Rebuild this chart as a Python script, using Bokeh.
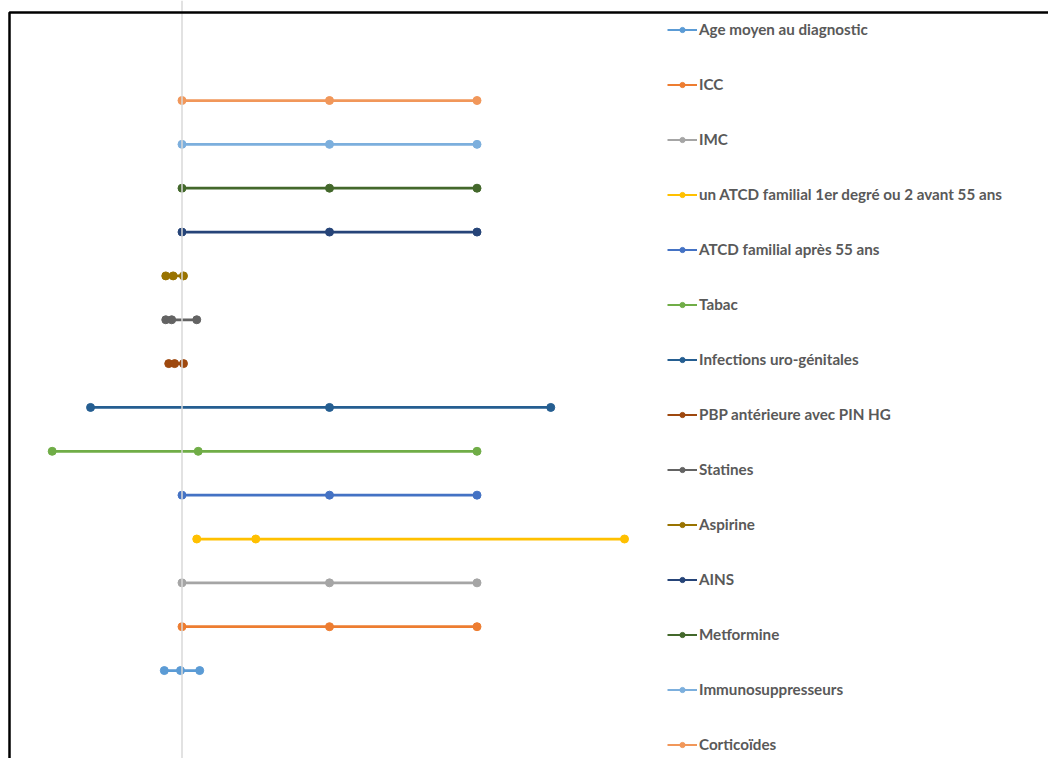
from bokeh.plotting import figure
from bokeh.models import ColumnDataSource, Span, Legend, LegendItem, Range1d, BoxAnnotation
from bokeh.embed import file_html
from bokeh.resources import INLINE

# ---------------- data ----------------
categories = [
    "Age moyen au diagnostic",
    "ICC",
    "IMC",
    "un ATCD familial 1er degré ou 2 avant 55 ans",
    "ATCD familial après 55 ans",
    "Tabac",
    "Infections uro-génitales",
    "PBP antérieure avec PIN HG",
    "Statines",
    "Aspirine",
    "AINS",
    "Metformine",
    "Immunosuppresseurs",
    "Corticoïdes",
]
rows = [1, 2, 3, 4, 5, 6, 7, 8, 9, 10, 11, 12, 13, 14]
low = [0.88, 1.0, 1.0, 1.10, 1.0, 0.12, 0.38, 0.91, 0.89, 0.89, 1.0, 1.0, 1.0, 1.0]
mid = [0.99, 2.0, 2.0, 1.50, 2.0, 1.11, 2.0, 0.95, 0.93, 0.94, 2.0, 2.0, 2.0, 2.0]
high = [1.12, 3.0, 3.0, 4.00, 3.0, 3.0, 3.50, 1.01, 1.10, 1.01, 3.0, 3.0, 3.0, 3.0]
reference_value = 1.0

colors = ["#5B9BD5", "#ED7D31", "#A5A5A5", "#FFC000", "#4472C4", "#70AD47",
          "#255E91", "#9E480E", "#636363", "#997300", "#264478", "#43682B",
          "#7CAFDD", "#F1975A"]

# ---------------- layout constants ----------------
W, H = 1048, 758
PX_PER_X = 147.5           # pixels per x unit
PX_PER_Y = 43.85           # pixels per row
REF_PX = 181.5             # frame pixel of the reference value
TOP_ROW_PX = 100.0         # frame pixel of the top row

x_start = reference_value - REF_PX / PX_PER_X
x_end = x_start + W / PX_PER_X
y_end = max(rows) + TOP_ROW_PX / PX_PER_Y
y_start = y_end - H / PX_PER_Y

p = figure(width=W, height=H, output_backend="svg", toolbar_location=None,
           x_range=Range1d(x_start, x_end), y_range=Range1d(y_start, y_end),
           min_border=0, min_border_left=0, min_border_right=0,
           min_border_top=0, min_border_bottom=0)
p.axis.visible = False
p.grid.visible = False
p.outline_line_color = None
p.background_fill_color = "white"
p.border_fill_color = "white"

# reference vertical line
p.add_layout(Span(location=reference_value, dimension="height",
                  line_color="#D9D9D9", line_width=1.5))

# chart frame: top-left corner visible, the rest runs past the page edges
p.add_layout(BoxAnnotation(left=x_start + 9.0 / PX_PER_X, top=y_end - 12.0 / PX_PER_Y,
                           right=x_end + 1.0, bottom=y_start - 1.0,
                           fill_alpha=0, line_color="black", line_width=2.5,
                           line_alpha=1))

nan = float("nan")
items = []
for i, name in enumerate(categories):
    src = ColumnDataSource(dict(x=[low[i], mid[i], high[i]], y=[rows[i]] * 3))
    p.line("x", "y", source=src, line_color=colors[i], line_width=2.75)
    p.scatter("x", "y", source=src, size=8, marker="circle",
              fill_color=colors[i], line_color=colors[i])
    # legend-only glyphs (thinner line, smaller marker); their single point is NaN
    blank = ColumnDataSource(dict(x=[nan], y=[nan]))
    ll = p.line("x", "y", source=blank, line_color=colors[i], line_width=2)
    ls = p.scatter("x", "y", source=blank, size=5, marker="circle",
                   fill_color=colors[i], line_color=colors[i])
    items.append(LegendItem(label=name, renderers=[ll, ls]))

glyph_h = 13
label_h = 20
spacing = 35
first_center = 29
leg_height = len(items) * label_h + (len(items) - 1) * spacing
leg_top = first_center - label_h / 2
legend = Legend(items=items, location=(667, H - (leg_top + leg_height)),
                orientation="vertical", padding=0, margin=0,
                spacing=spacing, glyph_height=glyph_h, label_height=label_h,
                glyph_width=30, label_standoff=2,
                border_line_color=None, background_fill_alpha=0,
                label_text_font="Lato", label_text_font_style="bold",
                label_text_color="#595959", label_text_font_size="15.2px")
p.add_layout(legend)

open("out.html", "w").write(file_html(p, INLINE))
